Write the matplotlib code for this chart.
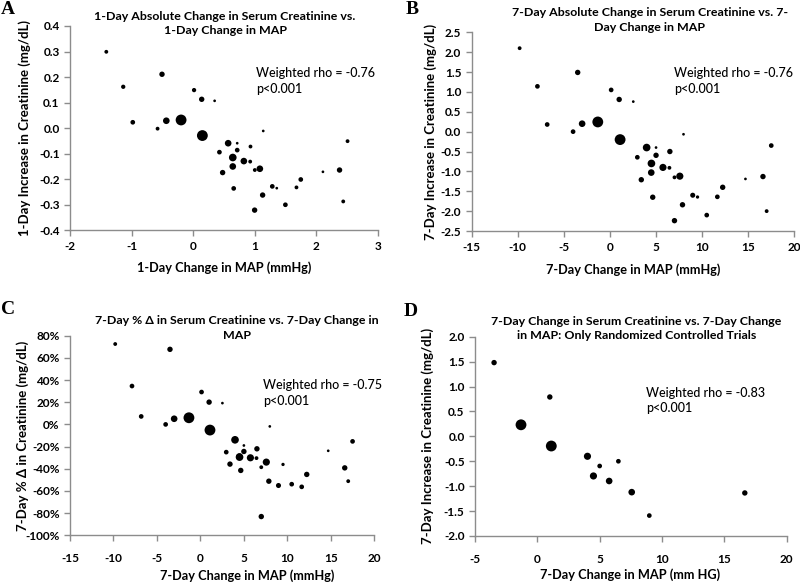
import matplotlib
matplotlib.use("Agg")
import matplotlib.pyplot as plt
import numpy as np

plt.rcParams['font.family'] = ['Lato', 'DejaVu Sans']
plt.rcParams['axes.unicode_minus'] = False

# ---------------------------
#  DATOS
# ---------------------------
# A: 1 dia
map_1d = [-1.41, -0.505, -1.135, 0.016, 0.14, 0.35, -0.98, -0.435, -0.195, -0.577,
          0.151, 0.428, 0.48, 1.14, 2.51, 0.57, 0.717, 0.933, 0.717, 0.645,
          0.825, 0.928, 0.645, 1.003, 1.085, 2.11, 2.38, 1.75, 0.66, 1.287,
          1.36, 1.68, 1.13, 1.50, 2.44, 1.0]
cr_1d = [0.299, 0.211, 0.162, 0.149, 0.113, 0.107, 0.023, 0.029, 0.032, -0.002,
         -0.029, -0.094, -0.174, -0.011, -0.051, -0.059, -0.059, -0.072, -0.086, -0.115,
         -0.129, -0.131, -0.150, -0.164, -0.159, -0.171, -0.164, -0.201, -0.236, -0.228,
         -0.235, -0.232, -0.262, -0.300, -0.287, -0.321]
peso_1d = [2, 4, 2.5, 2.5, 4, 1, 3, 6, 16, 2,
           16, 3, 4, 1, 2, 6, 1, 2, 3, 8,
           6, 2, 6, 2, 6, 1, 4, 3, 3, 3,
           1, 2, 4, 3, 2, 4]

# B y C: 7 dias
map_7d = [-9.8, -3.5, -7.87, 0.13, 1.0, 2.53, -6.81, -4.0, -3.02, -1.32,
          1.1, 7.98, 17.5, 3.98, 5.0, 2.97, 5.0, 6.5, 4.5, 5.75,
          6.45, 4.48, 3.4, 7.0, 7.58, 14.7, 16.6, 12.23, 4.64, 8.98,
          9.5, 11.65, 7.87, 10.5, 17.0, 7.0]
cr_7d = [2.10, 1.49, 1.14, 1.05, 0.81, 0.756, 0.18, 0.0, 0.20, 0.244,
         -0.20, -0.066, -0.35, -0.40, -0.40, -0.645, -0.595, -0.50, -0.80, -0.90,
         -0.91, -1.03, -1.21, -1.15, -1.12, -1.19, -1.13, -1.40, -1.65, -1.60,
         -1.645, -1.64, -1.84, -2.10, -2.0, -2.24]
pct_7d = [72.5, 67.7, 34.6, 29.2, 20.1, 19.2, 7.2, 0.0, 5.1, 6.0,
          -5.1, -1.8, -15.3, -13.9, -19.0, -25.0, -24.4, -22.0, -29.5, -30.1,
          -30.4, -29.0, -35.8, -38.6, -34.0, -23.8, -39.2, -45.1, -41.5, -55.1,
          -36.1, -56.3, -51.2, -53.9, -51.2, -83.1]
peso_7d = [2, 4, 3, 3, 4, 1, 3, 3, 6, 16,
           16, 1, 3, 8, 1, 3, 4, 4, 8, 7,
           2, 6, 4, 2, 7, 1, 4, 4, 4, 3.5,
           1.5, 3, 4, 3, 2, 4]

# D: solo ensayos aleatorizados
map_rct = [-3.47, 1.0, -1.31, 1.12, 4.02, 5.0, 6.5, 4.5, 5.76, 7.57, 8.98, 16.64]
cr_rct = [1.48, 0.79, 0.232, -0.194, -0.40, -0.595, -0.50, -0.795, -0.896, -1.12, -1.59, -1.136]
peso_rct = [4, 4, 16, 16, 7, 3, 3, 7, 6, 6, 3, 4]

W, H = 800, 585


def fx(px):
    return px / W


def fy(py):
    return 1 - py / H


def dec1(v):
    return f"{v + 0.0:.1f}".replace("-0.0", "0.0")


fig = plt.figure(figsize=(8, 5.85), dpi=100)


def panel(box, x, y, w, xlim, xticks, ylim, yticks, yfmt, xpad):
    x0, y0, x1, y1 = box
    ax = fig.add_axes([fx(x0), fy(y1), fx(x1 - x0), (y1 - y0) / H])
    ax.scatter(x, y, s=np.array(w) * 3.8, color='black', linewidths=0, zorder=3)
    ax.set_xlim(xlim)
    ax.set_ylim(ylim)
    ax.set_xticks(xticks)
    ax.set_yticks(yticks)
    ax.set_yticklabels([yfmt(v) for v in yticks])
    for s in ['top', 'right']:
        ax.spines[s].set_visible(False)
    for s in ['left', 'bottom']:
        ax.spines[s].set_color('#8c8c8c')
        ax.spines[s].set_linewidth(1.0)
    ax.tick_params(axis='both', colors='#8c8c8c', length=4, width=1.0,
                   labelcolor='black', labelsize=8.5)
    ax.tick_params(axis='x', pad=xpad)
    for lab in ax.get_xticklabels() + ax.get_yticklabels():
        lab.set_fontweight('bold')
    return ax


# A
axA = panel((70, 26, 377.7, 230.3), map_1d, cr_1d, peso_1d, (-2, 3), range(-2, 4),
            (-0.4, 0.4), np.round(np.arange(-0.4, 0.41, 0.1), 1), dec1, 4)
# B
axB = panel((471.7, 32.3, 794.3, 231), map_7d, cr_7d, peso_7d, (-15, 20), range(-15, 21, 5),
            (-2.5, 2.5), np.round(np.arange(-2.5, 2.51, 0.5), 1), dec1, 4)
# C
axC = panel((70, 335.7, 374.3, 535.3), map_7d, pct_7d, peso_7d, (-15, 20), range(-15, 21, 5),
            (-100, 80), range(-100, 81, 20), lambda v: f"{v:.0f}%", 9)
# D
axD = panel((475, 336.7, 786.7, 536), map_rct, cr_rct, peso_rct, (-5, 20), range(-5, 21, 5),
            (-2.0, 2.0), np.round(np.arange(-2.0, 2.01, 0.5), 1), dec1, 9)

# Titulos
tkw = dict(ha='center', va='center', fontsize=8.9, fontweight='bold', linespacing=1.4)
fig.text(fx(225), fy(23.5), "1-Day Absolute Change in Serum Creatinine vs.\n1-Day Change in MAP", **tkw)
fig.text(fx(650), fy(20), "7-Day Absolute Change in Serum Creatinine vs. 7-\nDay Change in MAP", **tkw)
fig.text(fx(237), fy(328), "7-Day % \u0394 in Serum Creatinine vs. 7-Day Change in\nMAP", **tkw)
fig.text(fx(636.5), fy(328.5), "7-Day Change in Serum Creatinine vs. 7-Day Change\nin MAP: Only Randomized Controlled Trials", **tkw)

# Letras de panel
lkw = dict(ha='left', va='center', fontsize=14, fontweight='bold', family='Liberation Serif')
fig.text(fx(1), fy(9), "A", **lkw)
fig.text(fx(406), fy(9), "B", **lkw)
fig.text(fx(1), fy(309), "C", **lkw)
fig.text(fx(404), fy(312), "D", **lkw)

# Etiquetas de ejes
ykw = dict(ha='center', va='center', rotation=90, fontsize=9.5, fontweight='bold')
fig.text(fx(25), fy(128), "1-Day Increase in Creatinine (mg/dL)", **ykw)
fig.text(fx(431), fy(131.5), "7-Day Increase in Creatinine (mg/dL)", **ykw)
fig.text(fx(23), fy(435.5), "7-Day % \u0394 in Creatinine (mg/dL)", **ykw)
fig.text(fx(428), fy(436), "7-Day Increase in Creatinine (mg/dL)", **ykw)

xkw = dict(ha='center', va='center', fontsize=9.2, fontweight='bold')
fig.text(fx(224), fy(267.7), "1-Day Change in MAP (mmHg)", **xkw)
fig.text(fx(633), fy(270), "7-Day Change in MAP (mmHg)", **xkw)
fig.text(fx(246.7), fy(576), "7-Day Change in MAP (mmHg)", **xkw)
fig.text(fx(630), fy(575), "7-Day Change in MAP (mm HG)", **xkw)

# Correlaciones
rkw = dict(ha='left', va='center', fontsize=9, linespacing=1.35, fontweight='medium')
fig.text(fx(256), fy(81), "Weighted rho = -0.76\np<0.001", **rkw)
fig.text(fx(674), fy(81), "Weighted rho = -0.76\np<0.001", **rkw)
fig.text(fx(263), fy(393), "Weighted rho = -0.75\np<0.001", **rkw)
fig.text(fx(646.5), fy(400.5), "Weighted rho = -0.83\np<0.001", **rkw)

fig.savefig("out.png", dpi=100)
